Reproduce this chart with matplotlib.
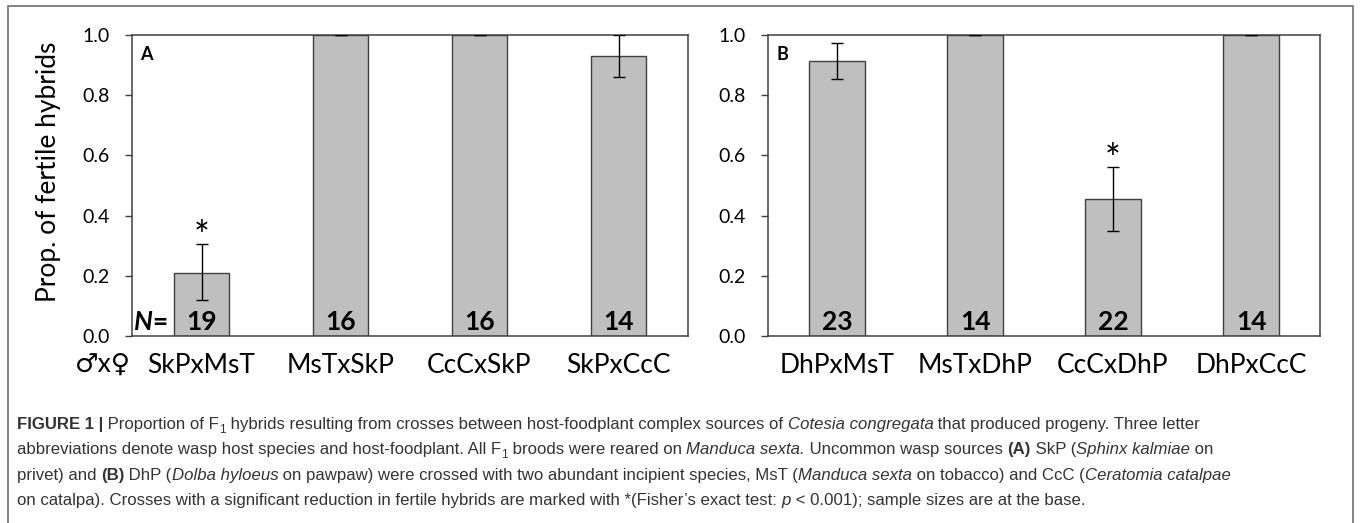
import matplotlib
matplotlib.use('Agg')
import matplotlib.pyplot as plt
from matplotlib.patches import Rectangle

# data
crosses_a = ['SkPxMsT', 'MsTxSkP', 'CcCxSkP', 'SkPxCcC']
prop_a = [0.21, 1.0, 1.0, 0.93]
err_lo_a = [0.09, 0.0, 0.0, 0.07]
err_hi_a = [0.095, 0.0, 0.0, 0.07]
n_a = [19, 16, 16, 14]
sig_a = [True, False, False, False]

crosses_b = ['DhPxMsT', 'MsTxDhP', 'CcCxDhP', 'DhPxCcC']
prop_b = [0.915, 1.0, 0.455, 1.0]
err_lo_b = [0.06, 0.0, 0.105, 0.0]
err_hi_b = [0.06, 0.0, 0.105, 0.0]
n_b = [23, 14, 22, 14]
sig_b = [False, False, True, False]

yticks = [0.0, 0.2, 0.4, 0.6, 0.8, 1.0]

W, H = 1360, 523
fig = plt.figure(figsize=(W / 100, H / 100), dpi=100)
fig.patch.set_facecolor('white')

FONT = ['Lato', 'DejaVu Sans']
CAP = ['Liberation Sans', 'DejaVu Sans']
edge = '#404040'
barc = '#bfbfbf'

# outer frame (open at bottom)
fig.patches.append(Rectangle((8 / W, -0.02), (1353 - 8) / W, (H - 6) / H + 0.02,
                             transform=fig.transFigure, fill=False,
                             edgecolor='#6d6e71', linewidth=1.2))


def panel(rect, names, vals, lo, hi, ns, sig, letter, first):
    ax = fig.add_axes(rect)
    x = range(len(names))
    ax.bar(x, vals, width=0.4, color=barc, edgecolor=edge, linewidth=1.0, zorder=2)
    ax.errorbar(x, vals, yerr=[lo, hi], fmt='none', ecolor='black',
                elinewidth=1.0, capsize=4.5, capthick=1.0, zorder=3)
    ax.set_xlim(-0.5, len(names) - 0.5)
    ax.set_ylim(0, 1.0)
    ax.set_yticks(yticks)
    ax.set_yticklabels(['%.1f' % t for t in yticks], family=FONT, fontsize=14)
    ax.set_xticks(list(x))
    ax.set_xticklabels(names, family=FONT, fontsize=19)
    ax.tick_params(axis='y', length=5, width=1, color=edge, pad=11)
    ax.tick_params(axis='x', length=0, pad=12)
    for s in ax.spines.values():
        s.set_color(edge)
        s.set_linewidth(1.1)
    for i, v in enumerate(ns):
        ax.text(i, 0.008, str(v), ha='center', va='bottom', family=FONT,
                fontsize=19, fontweight='bold', zorder=4)
        if sig[i]:
            ax.text(i, vals[i] + hi[i] + 0.02, '*', ha='center', va='center',
                    family=FONT, fontsize=27, zorder=4)
    ax.text(0.015, 0.965, letter, transform=ax.transAxes, ha='left', va='top',
            family=FONT, fontsize=13, fontweight='bold')
    if first:
        ax.set_ylabel('Prop. of fertile hybrids', family=FONT, fontsize=19)
        ax.yaxis.set_label_coords(-0.128, 0.545)
        ax.text(0.003, 0.008, 'N', transform=ax.transAxes, ha='left', va='bottom',
                family=FONT, fontsize=19, fontweight='bold', style='italic')
        ax.text(0.037, 0.008, '=', transform=ax.transAxes, ha='left', va='bottom',
                family=FONT, fontsize=19, fontweight='bold')
    return ax


ax_a = panel([132 / W, 187 / H, 556 / W, 301 / H], crosses_a, prop_a, err_lo_a,
             err_hi_a, n_a, sig_a, 'A', True)
ax_b = panel([768 / W, 187 / H, 552 / W, 301 / H], crosses_b, prop_b, err_lo_b,
             err_hi_b, n_b, sig_b, 'B', False)

fig.text(75 / W, 1 - 364 / H, '\u2642x\u2640', family=FONT, fontsize=19,
         ha='left', va='center')

# caption, drawn run by run
cap_size = 12.1
cap_color = '#333333'
lines = [
    [('FIGURE 1 |', 'b'), (' Proportion of F', 'n'), ('1', 's'),
     (' hybrids resulting from crosses between host-foodplant complex sources of ', 'n'),
     ('Cotesia congregata', 'i'), (' that produced progeny. Three letter', 'n')],
    [('abbreviations denote wasp host species and host-foodplant. All F', 'n'), ('1', 's'),
     (' broods were reared on ', 'n'), ('Manduca sexta.', 'i'),
     (' Uncommon wasp sources ', 'n'), ('(A)', 'b'), (' SkP (', 'n'),
     ('Sphinx kalmiae', 'i'), (' on', 'n')],
    [('privet) and ', 'n'), ('(B)', 'b'), (' DhP (', 'n'), ('Dolba hyloeus', 'i'),
     (' on pawpaw) were crossed with two abundant incipient species, MsT (', 'n'),
     ('Manduca sexta', 'i'), (' on tobacco) and CcC (', 'n'), ('Ceratomia catalpae', 'i')],
    [('on catalpa). Crosses with a significant reduction in fertile hybrids are marked with *(Fisher\u2019s exact test: ', 'n'),
     ('p', 'i'), (' < 0.001); sample sizes are at the base.', 'n')],
]

renderer = fig.canvas.get_renderer()


def props(kind):
    d = dict(family=CAP, fontsize=cap_size, color=cap_color)
    if kind == 'b':
        d['fontweight'] = 'bold'
    elif kind == 'i':
        d['style'] = 'italic'
    elif kind == 's':
        d['fontsize'] = cap_size * 0.7
    return d


def width_px(s, kind):
    # measure with guard characters so spaces count
    t1 = fig.text(0, 0, '|' + s + '|', **props(kind))
    t2 = fig.text(0, 0, '||', **props(kind))
    w = t1.get_window_extent(renderer).width - t2.get_window_extent(renderer).width
    t1.remove()
    t2.remove()
    return w


for li, runs in enumerate(lines):
    base = 429 + li * 25.3
    xp = 17.0
    for s, kind in runs:
        yp = base + (4 if kind == 's' else 0)
        fig.text(xp / W, 1 - yp / H, s, ha='left', va='baseline', **props(kind))
        xp += width_px(s, kind)

fig.savefig('out.png', dpi=100, facecolor='white')
